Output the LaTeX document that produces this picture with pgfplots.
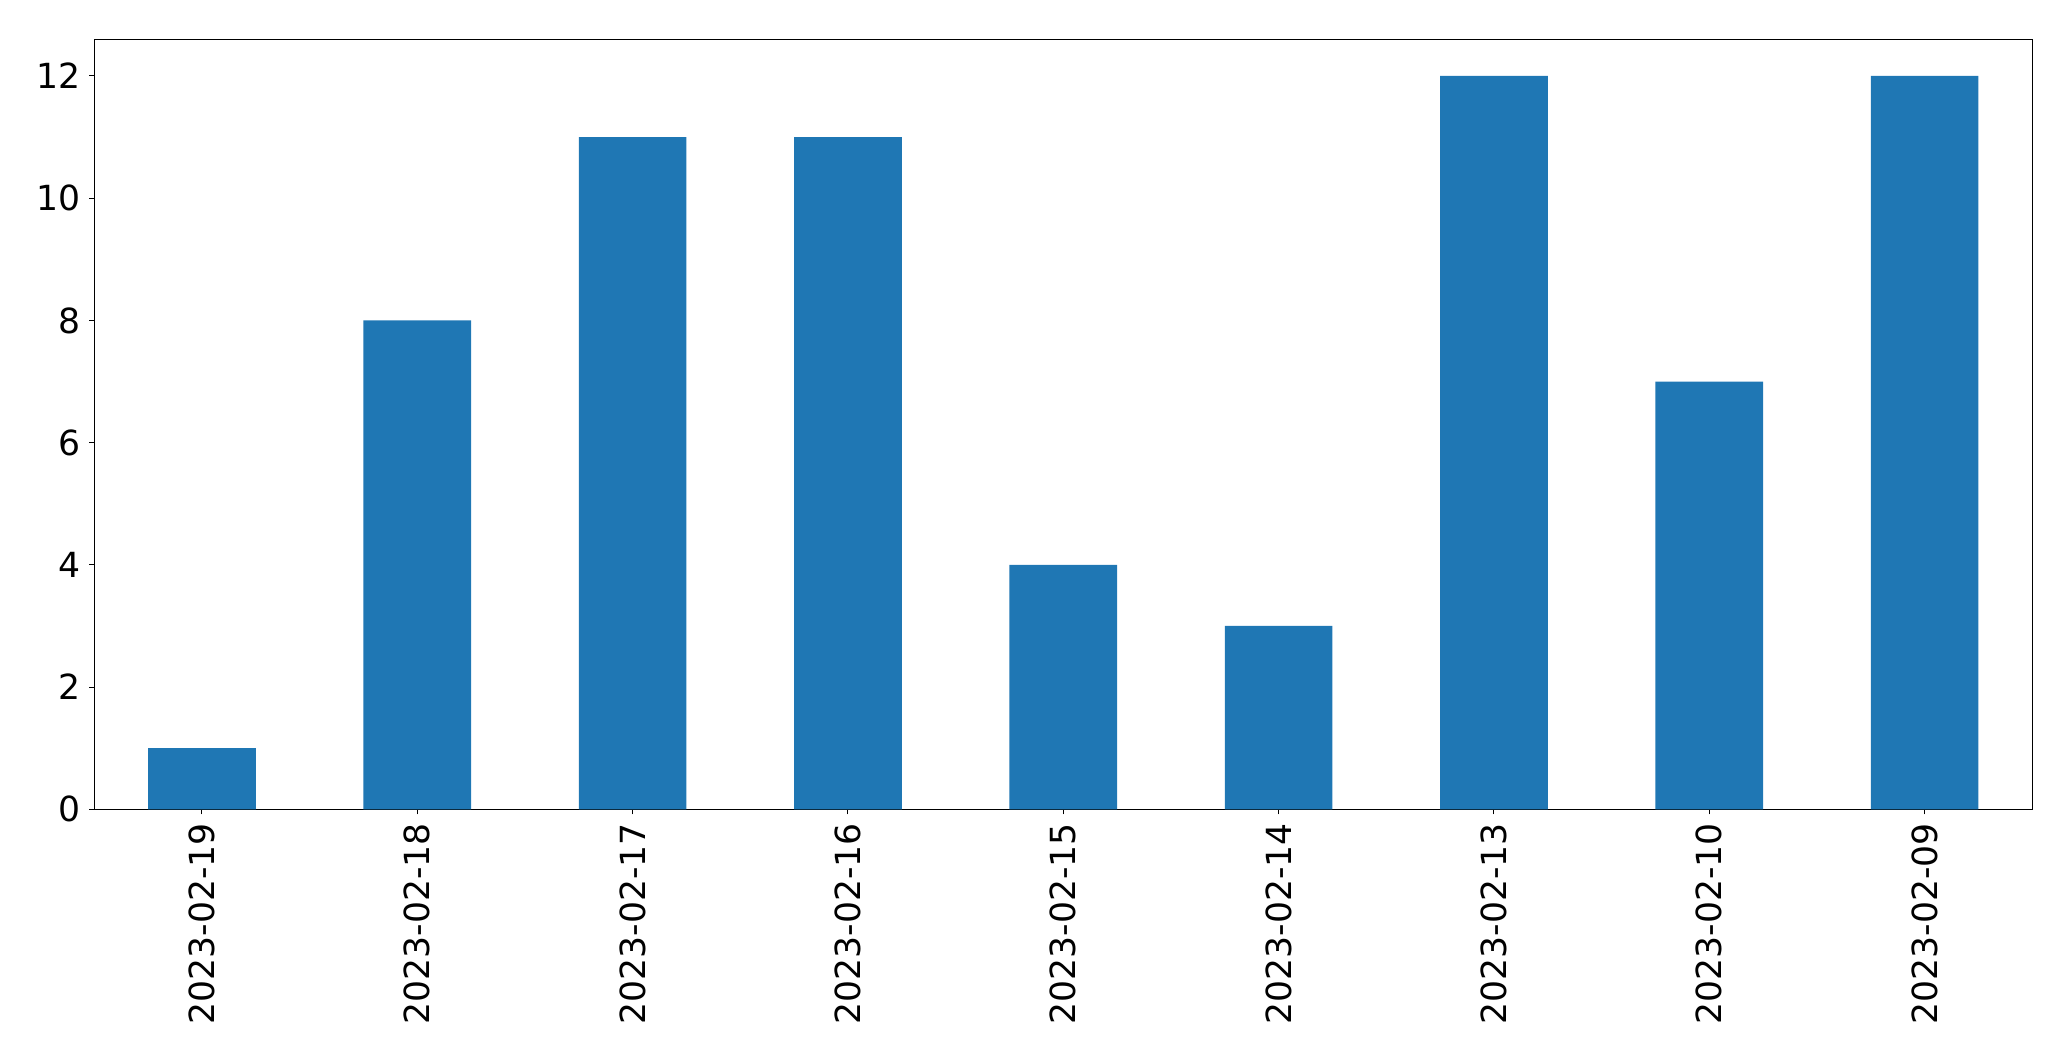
\documentclass[border=0pt]{standalone}
\usepackage{fontspec}
\setmainfont{DejaVu Sans}
\usepackage{pgfplots}
\pgfplotsset{compat=1.18}
\definecolor{mplblue}{HTML}{1F77B4}
\begin{document}
\begin{tikzpicture}
\useasboundingbox (-47.15pt,-125.85pt) rectangle (988.35pt,404.65pt);
\begin{axis}[
  at={(0,0)}, anchor=south west,
  scale only axis, width=969pt, height=385pt,
  xmin=-0.5, xmax=8.5, ymin=0, ymax=12.6,
  xtick={0,1,2,3,4,5,6,7,8},
  xticklabels={2023-02-19,2023-02-18,2023-02-17,2023-02-16,2023-02-15,2023-02-14,2023-02-13,2023-02-10,2023-02-09},
  ytick={0,2,4,6,8,10,12},
  tick align=outside, major tick length=2.5pt,
  tick style={black, line width=0.5pt},
  axis line style={line width=0.5pt},
  xtick pos=bottom, ytick pos=left,
  font=\fontsize{17.3}{21}\selectfont,
  /pgf/number format/assume math mode=true,
  xticklabel style={rotate=90, anchor=east, inner sep=0pt, xshift=-4.3pt},
  yticklabel style={inner sep=0pt, xshift=-4pt},
]
\addplot[ybar, bar width=0.5, fill=mplblue, draw=none] coordinates {
(0,1) (1,8) (2,11) (3,11) (4,4) (5,3) (6,12) (7,7) (8,12)};
\end{axis}
\end{tikzpicture}
\end{document}
